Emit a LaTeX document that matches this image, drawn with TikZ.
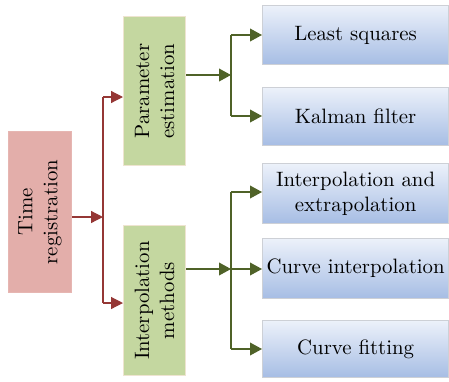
\documentclass[tikz,border=0pt]{standalone}
\usetikzlibrary{arrows.meta}
\definecolor{pinkfill}{RGB}{227,174,170}
\definecolor{greenfill}{RGB}{196,215,160}
\definecolor{greenedge}{RGB}{238,228,208}
\definecolor{bluetop}{RGB}{236,241,250}
\definecolor{bluebot}{RGB}{166,189,228}
\definecolor{blueedge}{RGB}{205,208,214}
\definecolor{redline}{RGB}{149,55,53}
\definecolor{greenline}{RGB}{79,98,40}
\tikzset{
  box/.style={draw, line width=0.6pt, inner sep=0pt, anchor=north west},
  rootbox/.style={box, draw=pinkfill!90!white, fill=pinkfill},
  midbox/.style={box, draw=greenedge, fill=greenfill},
  leafbox/.style={box, draw=blueedge, top color=bluetop, bottom color=bluebot},
  vlabel/.style={rotate=90, align=center, font=\fontsize{10.4}{12.5}\selectfont},
  hlabel/.style={align=center, font=\fontsize{10.4}{12.5}\selectfont},
  rarrow/.style={draw=redline, line width=0.6pt, -{Triangle[length=6pt,width=6pt]}, color=redline},
  garrow/.style={draw=greenline, line width=0.6pt, -{Triangle[length=6pt,width=6.4pt]}, color=greenline},
  rline/.style={draw=redline, line width=0.6pt},
  gline/.style={draw=greenline, line width=0.6pt},
}
\begin{document}
\begin{tikzpicture}[x=0.5pt,y=0.5pt]
\useasboundingbox (0,0) rectangle (449,-381);

% level 1
\node[rootbox, minimum width=31.5pt, minimum height=80.5pt] (time) at (8,-131) {};
\node[vlabel] (timetxt) at (time.center) {Time\\registration};

% level 2
\node[midbox, minimum width=31pt, minimum height=74.5pt] (param) at (123,-16) {};
\node[vlabel] (paramtxt) at (param.center) {Parameter\\estimation};
\node[midbox, minimum width=31pt, minimum height=75pt] (interp) at (123,-225) {};
\node[vlabel] (interptxt) at (interp.center) {Interpolation\\methods};

% level 3
\node[leafbox, minimum width=93pt, minimum height=29.5pt] (ls) at (262,-5) {};
\node[hlabel] (lstxt) at (ls.center) {Least squares};
\node[leafbox, minimum width=93pt, minimum height=29pt] (kf) at (262,-87) {};
\node[hlabel] (kftxt) at (kf.center) {Kalman filter};
\node[leafbox, minimum width=93pt, minimum height=30pt] (ie) at (262,-163) {};
\node[hlabel] (ietxt) at (ie.center) {Interpolation and\\extrapolation};
\node[leafbox, minimum width=93pt, minimum height=30pt] (ci) at (262,-238) {};
\node[hlabel] (citxt) at (ci.center) {Curve interpolation};
\node[leafbox, minimum width=93pt, minimum height=28.5pt] (cf) at (262,-320) {};
\node[hlabel] (cftxt) at (cf.center) {Curve fitting};

% junction points
\coordinate (rj) at (103,-217);
\coordinate (rtop) at (103,-97);
\coordinate (rbot) at (103,-303);
\coordinate (gj1) at (231,-75);
\coordinate (g1top) at (231,-35);
\coordinate (g1bot) at (231,-116);
\coordinate (gj2) at (231,-269);
\coordinate (g2top) at (231,-192);
\coordinate (g2bot) at (231,-349);

% red connectors
\draw[rarrow] (time.east |- rj) -- (rj);
\draw[rline] (rtop) -- (rbot);
\draw[rarrow] (rtop) -- (rtop -| param.west);
\draw[rarrow] (rbot) -- (rbot -| interp.west);

% green connectors, upper group
\draw[garrow] (param.east |- gj1) -- (gj1);
\draw[gline] (g1top) -- (g1bot);
\draw[garrow] (g1top) -- (g1top -| ls.west);
\draw[garrow] (g1bot) -- (g1bot -| kf.west);

% green connectors, lower group
\draw[garrow] (interp.east |- gj2) -- (gj2);
\draw[gline] (g2top) -- (g2bot);
\draw[garrow] (g2top) -- (g2top -| ie.west);
\draw[garrow] (gj2) -- (gj2 -| ci.west);
\draw[garrow] (g2bot) -- (g2bot -| cf.west);
\end{tikzpicture}
\end{document}
